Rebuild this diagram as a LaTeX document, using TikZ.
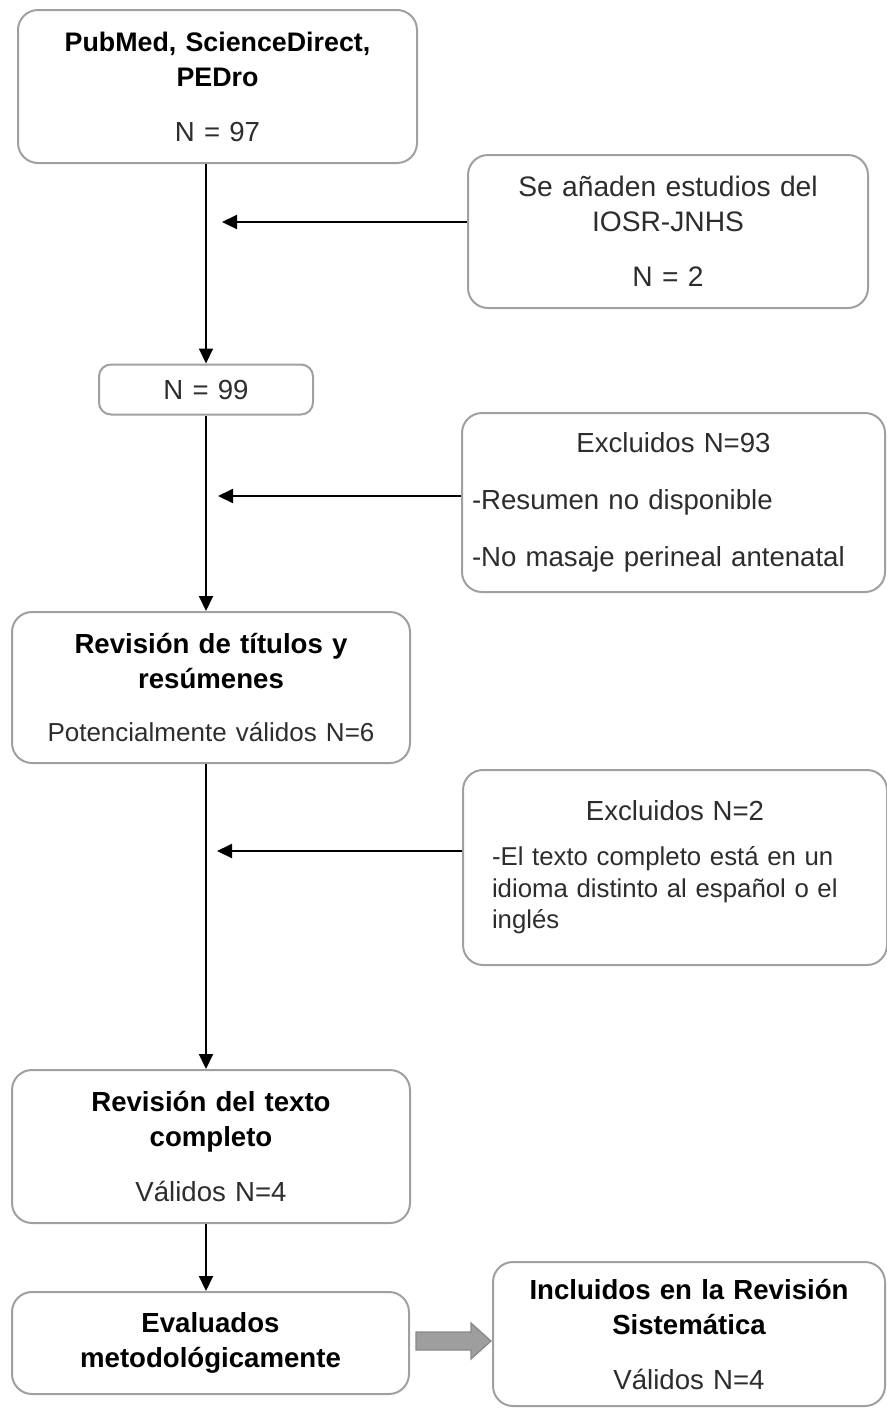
\documentclass[tikz,border=0pt]{standalone}
\usepackage{fontspec}
\setmainfont{Liberation Sans}
\usepackage{xcolor}
\usepackage{tikz}
\usetikzlibrary{arrows.meta, calc}
\definecolor{boxgray}{RGB}{160,160,160}
\definecolor{txtgray}{RGB}{45,45,45}
\definecolor{arrgray}{RGB}{158,158,158}
\definecolor{arredge}{RGB}{135,135,135}
\tikzset{
  proc/.style={rectangle, rounded corners=10pt, draw=boxgray, line width=1pt,
               fill=white, align=center, inner xsep=5pt, inner ysep=0pt,
               text=txtgray, font=\fontsize{13.8}{17.5}\selectfont},
  sproc/.style={proc, rounded corners=6pt},
  excl/.style={proc, align=left},
  arr/.style={-{Triangle[length=7.5pt,width=7pt]}, line width=1pt, black},
  bigarr/.style={fill=arrgray, draw=arredge, line width=0.6pt},
}
\begin{document}
\begin{tikzpicture}[x=0.5pt,y=-0.5pt]
  \useasboundingbox (0,0) rectangle (887,1409);
  % left column
  \node[proc, minimum width=199.5pt, minimum height=76.5pt, text width=189.5pt]
       (b1) at (217.5,86.5)
       {\fontsize{13.4}{17.5}\selectfont
        \bfseries\color{black}PubMed, ScienceDirect,\\PEDro\\[10pt]
        \fontsize{13.8}{17.5}\selectfont\mdseries\color{txtgray}N = 97};
  \node[sproc, minimum width=107pt, minimum height=25pt, text width=97pt]
       (b3) at (206,389.5) {N = 99};
  \node[proc, minimum width=199pt, minimum height=75.5pt, text width=189pt]
       (b5) at (211,687.5)
       {\bfseries\color{black}Revisión de títulos y\\resúmenes\\[9pt]
        \fontsize{13}{17.5}\selectfont\mdseries\color{txtgray}Potencialmente válidos N=6};
  \node[proc, minimum width=199pt, minimum height=76.5pt, text width=189pt]
       (b7) at (211,1146.5)
       {\bfseries\color{black}Revisión del texto\\completo\\[10pt]
        \mdseries\color{txtgray}Válidos N=4};
  \node[proc, minimum width=198.5pt, minimum height=51pt, text width=188.5pt]
       (b8) at (210.5,1343)
       {\bfseries\color{black}Evaluados\\metodológicamente};
  % right column
  \node[proc, minimum width=200pt, minimum height=76.5pt, text width=190pt,
        font=\fontsize{14.1}{17.5}\selectfont]
       (b2) at (668,231.5)
       {Se añaden estudios del\\IOSR-JNHS\\[10pt]N = 2};
  \node[excl, minimum width=211.5pt, minimum height=89.5pt, text width=201.5pt]
       (b4) at (673.5,502.5)
       {\makebox[\linewidth]{Excluidos N=93}\\[11pt]
        -Resumen no disponible\\[11pt]
        -No masaje perineal antenatal};
  \node[excl, minimum width=212pt, minimum height=97.5pt, text width=183pt,
        inner xsep=14.5pt, font=\fontsize{12.9}{15.8}\selectfont]
       (b6) at (675,867.5)
       {\makebox[\linewidth]{\fontsize{13.8}{15.8}\selectfont Excluidos N=2}\\[6.5pt]
        -El texto completo está en un\\
        idioma distinto al español o el\\
        inglés};
  \node[proc, minimum width=196pt, minimum height=72pt, text width=186pt]
       (b9) at (689,1334)
       {\bfseries\color{black}Incluidos en la Revisión\\Sistemática\\[10pt]
        \mdseries\color{txtgray}Válidos N=4};
  % main flow
  \draw[arr] (b1.south -| b3) -- (b3.north);
  \draw[arr] (b3.south) -- (b5.north -| b3);
  \draw[arr] (b5.south -| b3) -- (b7.north -| b3);
  \draw[arr] (b7.south -| b3) -- (b8.north -| b3);
  % side arrows
  \coordinate (m1) at (222,222);
  \coordinate (m2) at (218,496);
  \coordinate (m3) at (217,851);
  \draw[arr] (b2.west |- m1) -- (m1);
  \draw[arr] (b4.west |- m2) -- (m2);
  \draw[arr] (b6.west |- m3) -- (m3);
  % block arrow to included
  \coordinate (ga) at ($(b8.east)+(6,-2)$);
  \draw[bigarr] (ga) ++(0,-9) -- ++(55,0) -- ++(0,-9) -- ++(20,18)
        -- ++(-20,18) -- ++(0,-9) -- ++(-55,0) -- cycle;
\end{tikzpicture}
\end{document}
